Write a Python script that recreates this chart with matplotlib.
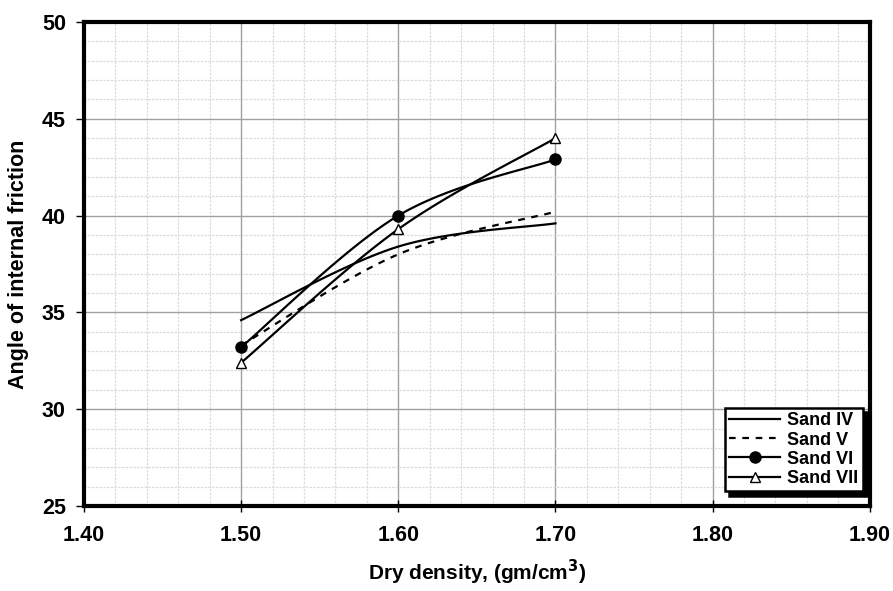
import matplotlib
matplotlib.use("Agg")
import matplotlib.pyplot as plt
from matplotlib.ticker import MultipleLocator, FormatStrFormatter
import numpy as np

plt.rcParams["font.family"] = ["Liberation Sans", "DejaVu Sans"]
plt.rcParams["font.weight"] = "bold"

# data
density = [1.50, 1.60, 1.70]
sand_iv = [34.6, 38.4, 39.6]
sand_v = [33.3, 38.0, 40.2]
sand_vi = [33.2, 40.0, 42.9]
sand_vii = [32.4, 39.3, 44.0]


def smooth(x, y, n=40):
    # Excel-style smoothed line (Catmull-Rom bezier through the points)
    p = np.column_stack([x, y]).astype(float)
    pts = np.vstack([p[0], p, p[-1]])
    out = []
    t = np.linspace(0, 1, n)[:, None]
    for i in range(1, len(pts) - 2):
        p0, p1 = pts[i], pts[i + 1]
        c1 = p0 + (pts[i + 1] - pts[i - 1]) / 6
        c2 = p1 - (pts[i + 2] - pts[i]) / 6
        seg = ((1 - t) ** 3) * p0 + 3 * ((1 - t) ** 2) * t * c1 + 3 * (1 - t) * t ** 2 * c2 + t ** 3 * p1
        out.append(seg if i == 1 else seg[1:])
    out = np.vstack(out)
    return out[:, 0], out[:, 1]


fig = plt.figure(figsize=(8.93, 5.91), dpi=100)
ax = fig.add_axes([0.094, 0.1438, 0.880, 0.819])

lw = 1.6
xs, ys = smooth(density, sand_iv)
ax.plot(xs, ys, color="black", lw=lw, label="Sand IV", zorder=3)
xs, ys = smooth(density, sand_v)
ax.plot(xs, ys, color="black", lw=lw, ls=(0, (3, 3)), label="Sand V", zorder=3)
xs, ys = smooth(density, sand_vi)
ax.plot(xs, ys, color="black", lw=lw, zorder=3)
ax.plot(density, sand_vi, ls="none", marker="o", ms=8, color="black", zorder=4)
xs, ys = smooth(density, sand_vii)
ax.plot(xs, ys, color="black", lw=lw, zorder=3)
ax.plot(density, sand_vii, ls="none", marker="^", ms=7, mfc="white", mec="black",
        mew=1.0, zorder=4)

# legend handles (line + marker)
h_vi, = ax.plot([], [], color="black", lw=lw, marker="o", ms=8, label="Sand VI")
h_vii, = ax.plot([], [], color="black", lw=lw, marker="^", ms=7, mfc="white",
                 mec="black", mew=1.0, label="Sand VII")

ax.set_xlim(1.40, 1.90)
ax.set_ylim(25, 50)
ax.xaxis.set_major_locator(MultipleLocator(0.1))
ax.xaxis.set_minor_locator(MultipleLocator(0.02))
ax.yaxis.set_major_locator(MultipleLocator(5))
ax.yaxis.set_minor_locator(MultipleLocator(1))
ax.xaxis.set_major_formatter(FormatStrFormatter("%.2f"))

ax.grid(which="major", color="#a0a0a0", lw=1.0, zorder=0)
ax.grid(which="minor", color="#dcdcdc", lw=0.9, ls=(0, (2, 1)), zorder=0)
ax.set_axisbelow(True)

ax.tick_params(axis="both", which="minor", length=0)
ax.tick_params(axis="x", which="major", direction="inout", length=8, width=1,
               labelsize=15.5, pad=10)
ax.tick_params(axis="y", which="major", direction="out", length=6, width=1,
               labelsize=15.5, pad=7)

for s in ax.spines.values():
    s.set_linewidth(3)
    s.set_color("black")

ax.set_xlabel("Dry density, (gm/cm$^\\mathbf{3}$)", fontsize=15, fontweight="bold",
              labelpad=8)
ax.set_ylabel("Angle of internal friction", fontsize=15.5, fontweight="bold",
              labelpad=9)

handles, labels = ax.get_legend_handles_labels()
leg = ax.legend(handles, labels, loc="lower right", bbox_to_anchor=(0.991, 0.03),
                fontsize=13, frameon=True, fancybox=False,
                shadow={"color": "black", "alpha": 1.0, "ox": 3, "oy": -3},
                handlelength=2.8, borderpad=0.25, labelspacing=0.12,
                handletextpad=0.4, borderaxespad=0)
leg.get_frame().set_edgecolor("black")
leg.get_frame().set_linewidth(1.8)
for t in leg.get_texts():
    t.set_fontweight("bold")

fig.savefig("out.png", dpi=100)
